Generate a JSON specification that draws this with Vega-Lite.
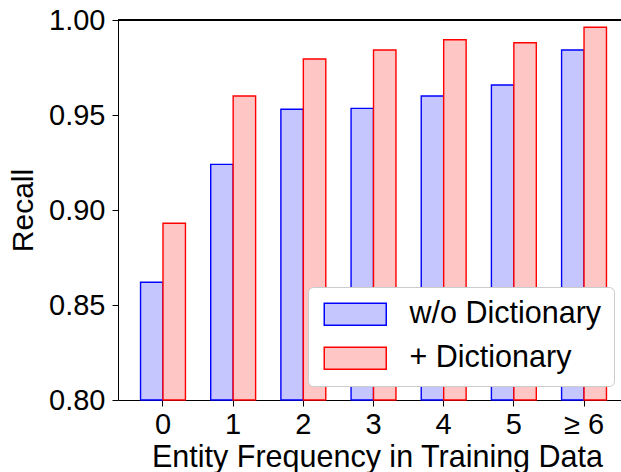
{
  "$schema": "https://vega.github.io/schema/vega-lite/v6.json",
  "width": 503,
  "height": 380,
  "autosize": {"type": "none"},
  "padding": {"left": 118, "top": 20, "right": 0, "bottom": 72},
  "background": "white",
  "config": {
    "view": {"stroke": null},
    "font": "Liberation Sans",
    "axis": {
      "labelFont": "Liberation Sans",
      "titleFont": "Liberation Sans",
      "labelFontSize": 29,
      "titleFontSize": 30,
      "titleFontWeight": "normal",
      "labelColor": "black",
      "titleColor": "black",
      "domainColor": "black",
      "tickColor": "black",
      "domainWidth": 1,
      "tickWidth": 1,
      "tickSize": 6,
      "grid": false
    },
    "legend": {
      "orient": "none",
      "legendX": 190,
      "legendY": 267,
      "title": null,
      "labelFont": "Liberation Sans",
      "labelFontSize": 30.5,
      "labelColor": "black",
      "labelLimit": 400,
      "symbolType": "M-2.818,-1H2.818V1H-2.818Z",
      "symbolSize": 484,
      "symbolStrokeWidth": 1.5,
      "symbolOpacity": 1,
      "symbolOffset": 20,
      "labelOffset": 39,
      "padding": 12,
      "rowPadding": 13,
      "fillColor": "white",
      "strokeColor": "#cccccc",
      "cornerRadius": 5
    }
  },
  "datasets": {
    "recall": [
      {"freq": "0", "method": "w/o Dictionary", "recall": 0.862},
      {"freq": "0", "method": "+ Dictionary", "recall": 0.893},
      {"freq": "1", "method": "w/o Dictionary", "recall": 0.924},
      {"freq": "1", "method": "+ Dictionary", "recall": 0.960},
      {"freq": "2", "method": "w/o Dictionary", "recall": 0.953},
      {"freq": "2", "method": "+ Dictionary", "recall": 0.9795},
      {"freq": "3", "method": "w/o Dictionary", "recall": 0.9535},
      {"freq": "3", "method": "+ Dictionary", "recall": 0.9842},
      {"freq": "4", "method": "w/o Dictionary", "recall": 0.960},
      {"freq": "4", "method": "+ Dictionary", "recall": 0.9896},
      {"freq": "5", "method": "w/o Dictionary", "recall": 0.9658},
      {"freq": "5", "method": "+ Dictionary", "recall": 0.988},
      {"freq": "≥ 6", "method": "w/o Dictionary", "recall": 0.9842},
      {"freq": "≥ 6", "method": "+ Dictionary", "recall": 0.9962}
    ]
  },
  "data": {"name": "recall"},
  "layer": [
    {
      "mark": {"type": "bar", "strokeWidth": 1.4},
      "encoding": {
        "x": {
          "field": "freq",
          "type": "nominal",
          "scale": {
            "domain": ["0", "1", "2", "3", "4", "5", "≥ 6"],
            "paddingInner": 0,
            "paddingOuter": 0.084,
            "align": 0.84
          },
          "axis": {
            "labelAngle": 0,
            "labelBaseline": "alphabetic",
            "labelPadding": 27,
            "title": "Entity Frequency in Training Data",
            "titleFontSize": 30.5,
            "titleBaseline": "alphabetic",
            "titleAlign": "center",
            "titleX": 259,
            "titleY": 66.5
          }
        },
        "xOffset": {
          "field": "method",
          "type": "nominal",
          "scale": {
            "domain": ["w/o Dictionary", "+ Dictionary"],
            "paddingInner": 0,
            "paddingOuter": 0.563
          }
        },
        "y": {
          "field": "recall",
          "type": "quantitative",
          "scale": {"domain": [0.8, 1.0], "zero": false, "nice": false},
          "axis": {
            "values": [0.8, 0.85, 0.9, 0.95, 1.0],
            "format": ".2f",
            "labelPadding": 7,
            "title": "Recall",
            "titlePadding": 10
          }
        },
        "y2": {"datum": 0.8},
        "fill": {
          "field": "method",
          "type": "nominal",
          "scale": {
            "domain": ["w/o Dictionary", "+ Dictionary"],
            "range": ["#c6c6ff", "#ffc6c6"]
          }
        },
        "stroke": {
          "field": "method",
          "type": "nominal",
          "scale": {
            "domain": ["w/o Dictionary", "+ Dictionary"],
            "range": ["#0000ff", "#ff0000"]
          }
        }
      }
    },
    {
      "mark": {"type": "rule", "color": "black", "strokeWidth": 1.2},
      "encoding": {"y": {"datum": 1.0}}
    }
  ]
}
